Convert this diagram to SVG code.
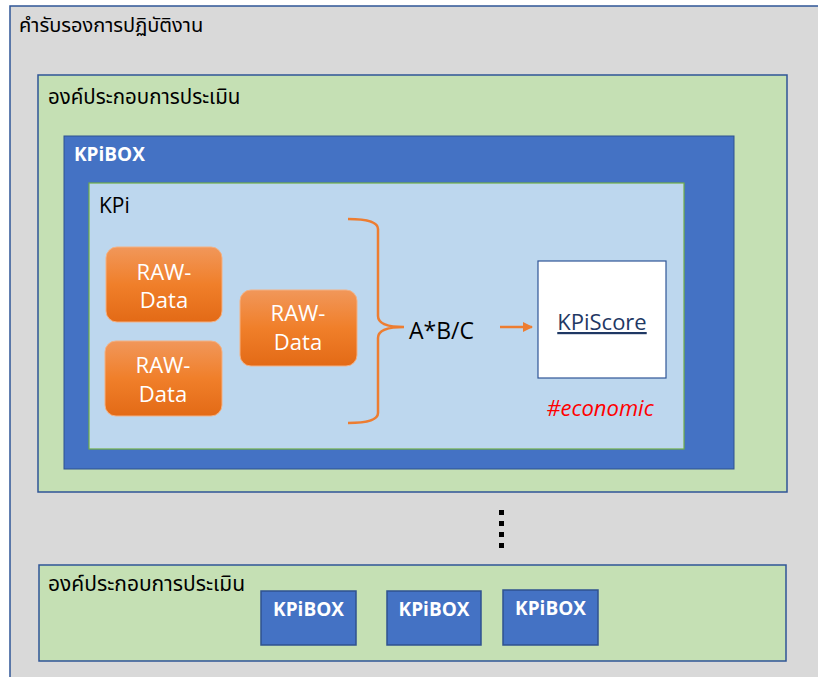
<svg xmlns="http://www.w3.org/2000/svg" width="818" height="677" viewBox="0 0 818 677">
<defs>
<linearGradient id="og" x1="0" y1="0" x2="0" y2="1">
<stop offset="0" stop-color="#F1975A"/>
<stop offset="0.5" stop-color="#F07F2A"/>
<stop offset="1" stop-color="#E36A16"/>
</linearGradient>
<marker id="ah" viewBox="0 0 10 10" refX="9" refY="5" markerWidth="4" markerHeight="4" orient="auto">
<path d="M0,0 L10,5 L0,10 z" fill="#ED7D31"/>
</marker>
<style>
.th{font-family:"Noto Sans","Noto Sans Thai","DejaVu Sans",sans-serif;fill:#000}
.lat{font-family:"Open Sans","Noto Sans",sans-serif}
.raw{fill:url(#og);stroke:#F4B183;stroke-width:1}
.rawt{font-family:"Open Sans",sans-serif;font-size:22px;fill:#fff;text-anchor:middle}
.kbox{fill:#4472C4;stroke:#2F528F;stroke-width:1.5}
.kbt{font-family:"Open Sans",sans-serif;font-weight:bold;font-size:19px;fill:#fff}
.green{fill:#C5E0B4;stroke:#2F5597;stroke-width:1.5}
.dot{fill:#000}
</style>
</defs>
<g id="outer">
<rect x="10" y="6" width="820" height="690" fill="#D9D9D9" stroke="#2F5597" stroke-width="1.5"/>
<text class="th" x="19" y="32" font-size="20">คำรับรองการปฏิบัติงาน</text>
</g>
<g id="component1">
<rect class="green" x="38" y="75" width="749" height="417"/>
<text class="th" x="48" y="104" font-size="20.5">องค์ประกอบการประเมิน</text>
</g>
<g id="kpibox-main">
<rect x="64" y="136" width="670" height="333" fill="#4472C4" stroke="#2F528F" stroke-width="1"/>
<text class="kbt" x="74" y="161">KPiBOX</text>
</g>
<g id="kpi">
<rect x="89" y="183" width="595" height="266" fill="#BDD7EE" stroke="#70AD47" stroke-width="1.2"/>
<text class="lat" x="99" y="213" font-size="21" fill="#000">KPi</text>
</g>
<g id="raw1">
<rect class="raw" x="106" y="247" width="116" height="75" rx="11"/>
<text class="rawt" x="164" y="280">RAW-</text>
<text class="rawt" x="164" y="308">Data</text>
</g>
<g id="raw2">
<rect class="raw" x="105" y="341" width="117" height="75" rx="11"/>
<text class="rawt" x="163" y="373">RAW-</text>
<text class="rawt" x="163" y="402">Data</text>
</g>
<g id="raw3">
<rect class="raw" x="240" y="290" width="117" height="76" rx="11"/>
<text class="rawt" x="298" y="321">RAW-</text>
<text class="rawt" x="298" y="350">Data</text>
</g>
<g id="formula">
<text class="lat" x="409" y="339" font-size="23" fill="#000">A*B/C</text>
</g>
<g id="kpiscore">
<rect x="538" y="261" width="128" height="117" fill="#fff" stroke="#2F5597" stroke-width="1.2"/>
<text class="lat" x="602" y="330" font-size="22" fill="#1F3864" text-anchor="middle" text-decoration="underline">KPiScore</text>
<text class="lat" x="600" y="416" font-size="22" fill="#FF0000" font-style="italic" text-anchor="middle">#economic</text>
</g>
<g id="connectors">
<path d="M348,219 Q378,219 378,229 L378,316 Q378,327 404,327 Q378,327 378,338 L378,413 Q378,423 348,423" fill="none" stroke="#ED7D31" stroke-width="2.5"/>
<line x1="500" y1="327" x2="532" y2="327" stroke="#ED7D31" stroke-width="2.5" marker-end="url(#ah)"/>
<rect class="dot" x="499" y="510" width="5" height="5"/>
<rect class="dot" x="499" y="521" width="5" height="5"/>
<rect class="dot" x="499" y="532" width="5" height="5"/>
<rect class="dot" x="499" y="543" width="5" height="5"/>
</g>
<g id="component2">
<rect class="green" x="39" y="565" width="747" height="96"/>
<text class="th" x="48" y="591" font-size="21">องค์ประกอบการประเมิน</text>
</g>
<g id="kpibox2">
<rect class="kbox" x="261" y="591" width="95" height="54"/>
<text class="kbt" x="308.5" y="616" text-anchor="middle">KPiBOX</text>
</g>
<g id="kpibox3">
<rect class="kbox" x="387" y="591" width="94" height="54"/>
<text class="kbt" x="434" y="616" text-anchor="middle">KPiBOX</text>
</g>
<g id="kpibox4">
<rect class="kbox" x="503" y="590" width="95" height="55"/>
<text class="kbt" x="550.5" y="615" text-anchor="middle">KPiBOX</text>
</g>
</svg>
